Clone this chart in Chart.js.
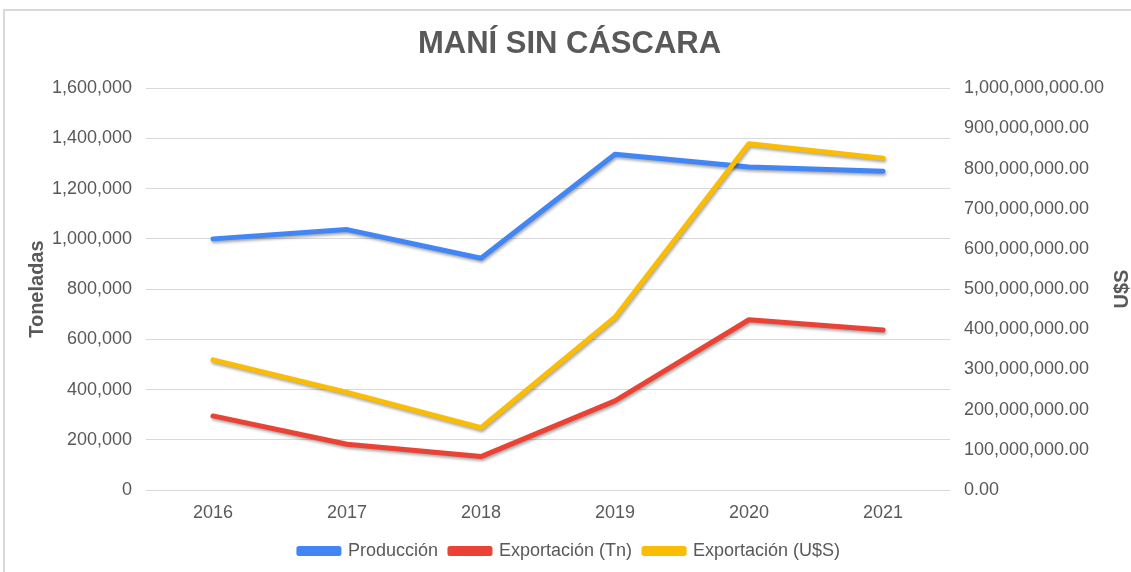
<!DOCTYPE html>
<html>
<head>
<meta charset="utf-8">
<script src="https://cdn.jsdelivr.net/npm/chart.js@4.4.0/dist/chart.umd.min.js"></script>
<style>
  html, body { margin: 0; padding: 0; background: #fff; }
  #wrap { width: 1131px; height: 572px; }
</style>
</head>
<body>
<div id="wrap"><canvas id="maniChart" width="1131" height="572"></canvas></div>
<script>
// datos
var years = ['2016', '2017', '2018', '2019', '2020', '2021'];
var produccion = [1000000, 1037000, 923000, 1337000, 1286000, 1269000];
var exportTn = [295000, 182000, 133000, 355000, 678000, 637000];
var exportUsd = [324000000, 243000000, 155000000, 430000000, 862000000, 826000000];

var textGrey = '#595959';
var fontFam = '"Liberation Sans", Arial, sans-serif';

// marco gris, sombra de las lineas y titulo del eje derecho
var framePlugin = {
    id: 'frame',
    beforeDraw: function(chart) {
        var c = chart.ctx;
        c.save();
        c.strokeStyle = '#d9d9d9';
        c.lineWidth = 2;
        c.beginPath();
        c.moveTo(4, 572);
        c.lineTo(4, 10);
        c.lineTo(1131, 10);
        c.stroke();
        c.restore();
    },
    beforeDatasetDraw: function(chart) {
        var c = chart.ctx;
        c.save();
        c.shadowColor = 'rgba(0,0,0,0.35)';
        c.shadowBlur = 3;
        c.shadowOffsetX = 1;
        c.shadowOffsetY = 2;
    },
    afterDatasetDraw: function(chart) {
        chart.ctx.restore();
    },
    afterDraw: function(chart) {
        var c = chart.ctx;
        var area = chart.chartArea;
        var y1 = chart.scales.y1;
        c.save();
        c.translate(y1.right - 9, (area.top + area.bottom) / 2);
        c.rotate(-Math.PI / 2);
        c.fillStyle = textGrey;
        c.font = 'bold 20px ' + fontFam;
        c.textAlign = 'center';
        c.textBaseline = 'middle';
        c.fillText('U$S', 0, 0);
        c.restore();
    }
};

var ctx = document.getElementById('maniChart').getContext('2d');
var maniChart = new Chart(ctx, {
    type: 'line',
    data: {
        labels: years,
        datasets: [{
            label: 'Producción',
            data: produccion,
            borderColor: '#4285F4',
            backgroundColor: '#4285F4',
            yAxisID: 'y',
            order: 1
        }, {
            label: 'Exportación (Tn)',
            data: exportTn,
            borderColor: '#EA4335',
            backgroundColor: '#EA4335',
            yAxisID: 'y',
            order: 2
        }, {
            label: 'Exportación (U$S)',
            data: exportUsd,
            borderColor: '#FBBC04',
            backgroundColor: '#FBBC04',
            yAxisID: 'y1',
            order: 0
        }]
    },
    options: {
        responsive: false,
        animation: false,
        layout: { padding: { top: 10, left: 8, right: 0, bottom: 2 } },
        elements: {
            line: { borderWidth: 5, tension: 0, borderCapStyle: 'round', borderJoinStyle: 'round' },
            point: { radius: 0, hoverRadius: 0 }
        },
        plugins: {
            title: {
                display: true,
                text: 'MANÍ SIN CÁSCARA',
                color: textGrey,
                font: { family: fontFam, size: 31, weight: 'bold' },
                padding: { top: 16, bottom: 25 }
            },
            legend: {
                position: 'bottom',
                labels: {
                    color: textGrey,
                    font: { family: fontFam, size: 18 },
                    boxWidth: 40,
                    boxHeight: 5,
                    padding: 12,
                    sort: function(a, b) { return a.datasetIndex - b.datasetIndex; }
                }
            },
            tooltip: { enabled: false }
        },
        scales: {
            x: {
                offset: true,
                afterFit: function(scale) { scale.height = 40; },
                grid: { display: false, drawTicks: false, tickLength: 0 },
                border: { display: false },
                ticks: { color: textGrey, font: { family: fontFam, size: 18 }, padding: 12 }
            },
            y: {
                position: 'left',
                min: 0,
                max: 1600000,
                afterFit: function(scale) { scale.width = 138; },
                grid: { color: '#d9d9d9', lineWidth: 1, drawTicks: false },
                border: { display: false },
                ticks: {
                    stepSize: 200000,
                    color: textGrey,
                    padding: 14,
                    font: { family: fontFam, size: 18 },
                    callback: function(v) { return v.toLocaleString('en-US'); }
                },
                title: {
                    display: true,
                    text: 'Toneladas',
                    color: textGrey,
                    font: { family: fontFam, size: 20, weight: 'bold' },
                    padding: { top: 17, bottom: 0 }
                }
            },
            y1: {
                position: 'right',
                min: 0,
                max: 1000000000,
                afterFit: function(scale) { scale.width = 181; },
                grid: { display: false },
                border: { display: false },
                ticks: {
                    stepSize: 100000000,
                    color: textGrey,
                    padding: 6,
                    font: { family: fontFam, size: 18 },
                    callback: function(v) {
                        return v.toLocaleString('en-US', { minimumFractionDigits: 2, maximumFractionDigits: 2 });
                    }
                }
            }
        }
    },
    plugins: [framePlugin]
});
</script>
</body>
</html>
